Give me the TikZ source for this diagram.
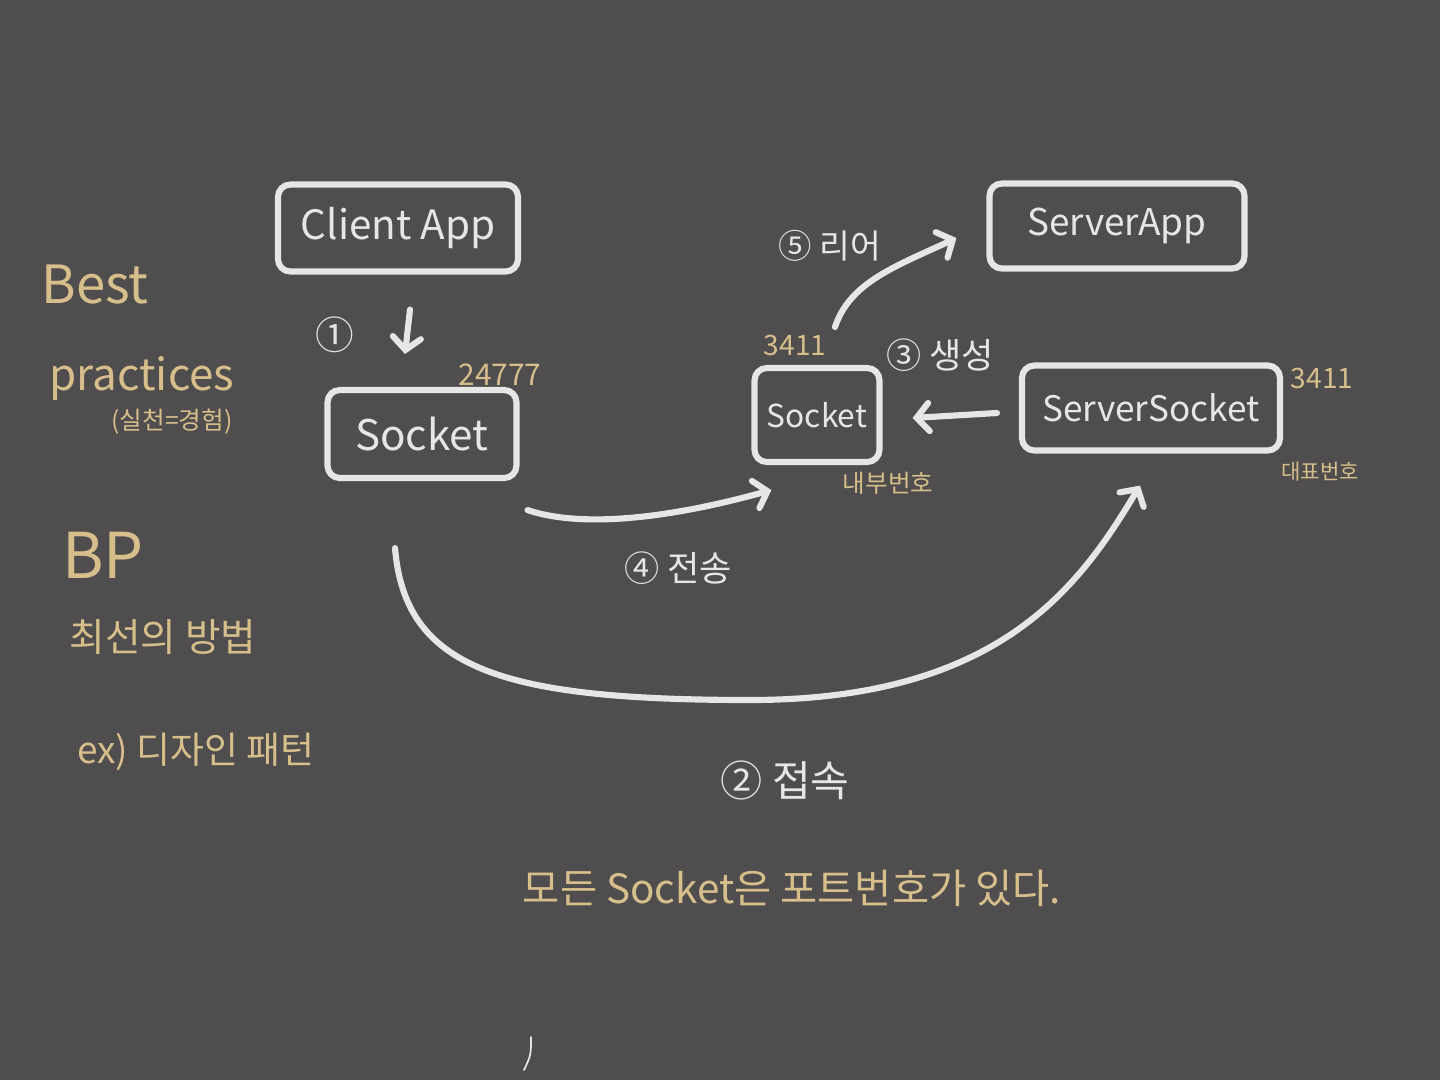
\documentclass[tikz,border=0pt]{standalone}
\usepackage{fontspec}
\setmainfont{Noto Sans CJK KR}
\usetikzlibrary{arrows.meta}

\definecolor{board}{HTML}{4F4D4E}
\definecolor{chalk}{HTML}{E6E6E6}
\definecolor{gold}{HTML}{D6BF8B}
\newcommand{\fsz}[1]{\fontsize{#1}{#1}\selectfont}

\tikzset{
  box/.style={draw=chalk, line width=3.5pt, rounded corners=7pt, text=chalk, inner sep=0pt},
  arr/.style={draw=chalk, line width=3.5pt, line cap=round, -{Straight Barb[length=7pt,width=16pt,line cap=round]}},
  lbl/.style={text=chalk, inner sep=0pt},
  note/.style={text=gold, inner sep=0pt}
}

\begin{document}
\begin{tikzpicture}[x=0.02cm,y=-0.02cm]
\fill[board] (0,0) rectangle (1440,1080);
\useasboundingbox (0,0) rectangle (1440,1080);

% boxes
\node[box, minimum width=4.8cm, minimum height=1.74cm, font=\fsz{23}] (clientapp) at (398,228) {Client App};
\node[box, minimum width=3.78cm, minimum height=1.76cm, font=\fsz{24}] (clientsock) at (422,434) {Socket};
\node[box, minimum width=2.5cm, minimum height=1.88cm, font=\fsz{18}] (sock) at (817,415) {Socket};
\node[box, minimum width=5.16cm, minimum height=1.7cm, font=\fsz{20}] (serversock) at (1151,408) {ServerSocket};
\node[box, minimum width=5.1cm, minimum height=1.7cm, font=\fsz{21}] (serverapp) at (1117,226) {ServerApp};

% steps
\node[lbl, font=\fsz{22}] (n1) at (335,335) {①};
\node[lbl, font=\fsz{24}] (n2) at (785,780) {② 접속};
\node[lbl, font=\fsz{20}] (n3) at (940,355) {③ 생성};
\node[lbl, font=\fsz{20}] (n4) at (678,568) {④ 전송};
\node[lbl, font=\fsz{19}] (n5) at (830,246) {⑤ 리어};

\draw[arr] ([shift={(12,35)}]clientapp.south) -- ([shift={(-17,-33)}]clientsock.north);
\draw[arr] ([shift={(-27,67)}]clientsock.south) .. controls +(10,120) and +(-250,0) .. (750,700)
  .. controls +(250,0) and +(-60,100) .. ([shift={(-11,32)}]serversock.south);
\draw[arr] ([shift={(-22,5)}]serversock.west) -- ([shift={(30,3)}]sock.east);
\draw[arr] ([shift={(8,29)}]clientsock.south east) .. controls +(60,20) and +(-90,25) .. ([shift={(20,25)}]sock.south west);
\draw[arr] ([shift={(18,-38)}]sock.north) .. controls +(15,-45) and +(-60,28) .. ([shift={(-30,12)}]serverapp.west);

% ports
\node[note, font=\fsz{17}] (clientport) at (500,375) {24777};
\node[note, font=\fsz{16}] (sockport) at (795,345) {3411};
\node[note, font=\fsz{14}] (sockinner) at (888,483) {내부번호};
\node[note, font=\fsz{16}] (ssport) at (1322,378) {3411};
\node[note, font=\fsz{12}] (ssmain) at (1320,472) {대표번호};

% left side
\node[note, font=\fsz{30}] (best) at (95,285) {Best};
\node[note, font=\fsz{25}] (practices) at (142,378) {practices};
\node[note, font=\fsz{14}] (practicenote) at (172,422) {(실천=경험)};
\node[note, font=\fsz{36}] (bp) at (103,555) {BP};
\node[note, font=\fsz{22}] (bpmeaning) at (163,637) {최선의 방법};
\node[note, font=\fsz{21}] (bpexample) at (196,752) {ex) 디자인 패턴};

\node[note, font=\fsz{23}] (allports) at (792,888) {모든 Socket은 포트번호가 있다.};

\draw[chalk, line width=1pt, line cap=round] (531,1037) .. controls (531,1055) .. (524,1070);
\end{tikzpicture}
\end{document}
